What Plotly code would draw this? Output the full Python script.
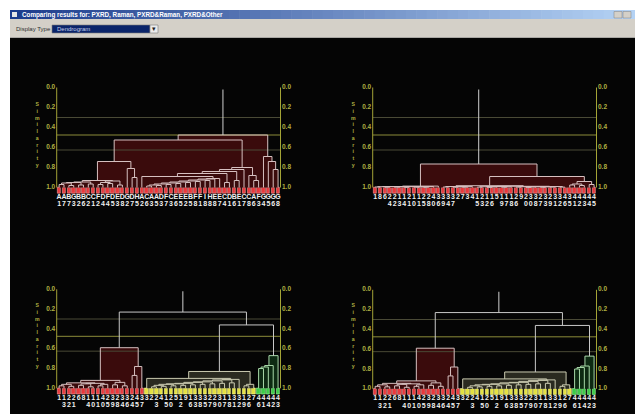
import plotly.graph_objects as go

W, H = 635, 414

# ---------------- data ----------------
TICK_VALUES = [0.0, 0.2, 0.4, 0.6, 0.8, 1.0]
TICK_TEXT = ["0.0", "0.2", "0.4", "0.6", "0.8", "1.0"]
GRID_LEVELS = [0.3, 0.625]
THRESHOLD = 0.475
STEM_TOP = 0.02
AXIS_TITLE = "Similarity"

TL_LABELS = ("A1 A7 B7 G3 B2 B6 C2 C1 F2 D4 F4 D5 E3 D8 G2 D7 H5 A2 C6 A3 A5 D3 F7 "
             "C3 E6 E5 E2 B5 F8 F1 I8 H8 E8 E7 C4 D1 B6 E1 C7 C8 A6 F3 G4 G5 G6 G8").split()
TL_GROUPS = ["red"] * 46
TL_GAPS = [0.97, 0.955, 0.98, 0.95, 0.975, 0.945, 0.965, 0.93, 0.97, 0.95, 0.96, 0.935, 0.975,
           0.74,
           0.81, 0.90,
           0.525,
           0.89,
           0.985, 0.975, 0.98, 0.965, 0.97, 0.955, 0.96, 0.945, 0.95, 0.935, 0.94, 0.925, 0.93, 0.915, 0.91,
           0.86, 0.95, 0.84, 0.93, 0.82, 0.80, 0.88, 0.93,
           0.475,
           0.69, 0.74, 0.82]

TR_LABELS = ["1", "8", "6", "24", "22", "13", "14", "21", "10", "11", "25", "28", "40", "36", "39",
             "34", "37", "2", "7", "3", "4", "15", "23", "12", "16", "5", "19", "17", "18", "26",
             "9", "20", "30", "38", "27", "33", "29", "31", "32", "46", "35", "41", "42", "43",
             "44", "45"]
TR_GROUPS = ["red"] * 46
TR_GAPS = [0.995, 0.992, 0.997, 0.990, 0.996, 0.993, 0.998, 0.991, 0.996, 0.994, 0.997, 0.990, 0.986,
           0.765,
           0.995, 0.990, 0.997, 0.993, 0.996, 0.991,
           0.982,
           0.996, 0.992, 0.998, 0.994, 0.990, 0.997, 0.993, 0.988, 0.996, 0.992, 0.998, 0.994, 0.991,
           0.997, 0.993, 0.995, 0.990, 0.996,
           0.89,
           0.975, 0.965, 0.98,
           0.94,
           0.97]

BOT_LABELS = ["1", "13", "22", "21", "6", "8", "14", "10", "11", "40", "25", "39", "28", "34", "36",
              "24", "45", "37",
              "3", "2", "23", "4", "15", "20", "5", "12", "9", "16", "33", "38", "35", "27", "29",
              "30", "17", "18", "31", "32", "19", "26", "7",
              "46", "41", "44", "42", "43"]
BOT_GROUPS = ["red"] * 18 + ["yellow"] * 23 + ["green"] * 5
BOT_GAPS = [0.975, 0.96, 0.98, 0.945, 0.97, 0.955, 0.985, 0.95, 0.975, 0.96,
            0.92,
            0.965, 0.94, 0.975,
            0.59,
            0.87, 0.78,
            0.23,
            0.90,
            0.985, 0.97, 0.98, 0.96, 0.975, 0.955, 0.97, 0.95, 0.965, 0.94, 0.96, 0.935, 0.955,
            0.925, 0.95, 0.915, 0.945, 0.91,
            0.83,
            0.975, 0.96,
            0.36,
            0.80, 0.785, 0.77, 0.67]

WINDOW_TITLE = "Comparing results for: PXRD, Raman, PXRD&Raman, PXRD&Other"

# ---------------- styles ----------------
FILL = {"red": "#3a0b0c", "yellow": "#2a2a20", "green": "#0d2a12"}
LINE = {"red": "#d6c0c0", "yellow": "#cacab0", "green": "#a8d8a8", None: "#c8c8c8"}
LEAF = {"red": "#e8383c", "yellow": "#e4e040", "green": "#3ccc48"}
LEAF_EDGE = {"red": "#ffa0a0", "yellow": "#ffffa0", "green": "#a0ffa0"}
AXIS_COL = "#a4a436"
TICK_COL = "#b0b042"
GRID_COL = "#4a4a36"
THR_COL = "#8c8c3a"

# panels: pixel positions of the two axis lines, y pixel of similarity 0, px per unit
PANELS = [
    dict(labels=TL_LABELS, gaps=TL_GAPS, groups=TL_GROUPS, x0=56.7, x1=280.5, y0=87.5, s=100.0),
    dict(labels=TR_LABELS, gaps=TR_GAPS, groups=TR_GROUPS, x0=372.7, x1=596.5, y0=87.5, s=100.0),
    dict(labels=BOT_LABELS, gaps=BOT_GAPS, groups=BOT_GROUPS, x0=56.7, x1=280.5, y0=289.3, s=99.0),
    dict(labels=BOT_LABELS, gaps=BOT_GAPS, groups=BOT_GROUPS, x0=372.7, x1=596.5, y0=289.8, s=99.0),
]
YMIN, YMAX = -0.05, 1.25
PAD_L, PAD_R = 7.0, 4.0   # extra x room (in leaf units) for the side labels


def px(x):
    return x / W


def py(y):
    return 1 - y / H


def build(gaps, groups, a, b, nodes):
    if a == b:
        return float(a), 1.0, groups[a]
    seg = gaps[a:b]
    k = a + seg.index(min(seg))
    xl, hl, gl = build(gaps, groups, a, k, nodes)
    xr, hr, gr = build(gaps, groups, k + 1, b, nodes)
    h = gaps[k]
    grp = gl if gl == gr else None
    nodes.append((xl, hl, xr, hr, h, grp))
    return (xl + xr) / 2, h, grp


fig = go.Figure()
annotations = []
layout_axes = {}

for i, p in enumerate(PANELS):
    n = i + 1
    sfx = "" if n == 1 else str(n)
    xa, ya = "x" + sfx, "y" + sfx
    labels, gaps, groups = p["labels"], p["gaps"], p["groups"]
    nl = len(labels)
    xlo, xhi = -0.5, nl - 0.5
    unit = (p["x1"] - p["x0"]) / nl

    ytop = p["y0"] + YMIN * p["s"]
    ybot = p["y0"] + YMAX * p["s"]
    layout_axes["xaxis" + sfx] = dict(domain=[px(p["x0"] - PAD_L * unit), px(p["x1"] + PAD_R * unit)],
                                      range=[xlo - PAD_L, xhi + PAD_R],
                                      visible=False, anchor=ya, fixedrange=True)
    layout_axes["yaxis" + sfx] = dict(domain=[py(ybot), py(ytop)], range=[YMAX, YMIN],
                                      visible=False, anchor=xa, fixedrange=True)

    nodes = []
    xroot, hroot, _ = build(gaps, groups, 0, nl - 1, nodes)

    # fills under clusters of one colour
    fills = {}
    for xl, hl, xr, hr, h, grp in nodes:
        if grp is None:
            continue
        fx, fy = fills.setdefault(grp, ([], []))
        fx += [xl, xl, xr, xr, xl, None]
        fy += [1.0, h, h, 1.0, 1.0, None]
    for grp, (fx, fy) in fills.items():
        fig.add_trace(go.Scatter(x=fx, y=fy, xaxis=xa, yaxis=ya, mode="lines", fill="toself",
                                 fillcolor=FILL[grp], line=dict(width=0), hoverinfo="skip"))

    # grid lines and threshold
    gx, gy = [], []
    for g in GRID_LEVELS:
        gx += [xlo, xhi, None]
        gy += [g, g, None]
    fig.add_trace(go.Scatter(x=gx, y=gy, xaxis=xa, yaxis=ya, mode="lines",
                             line=dict(color=GRID_COL, width=1), hoverinfo="skip"))
    fig.add_trace(go.Scatter(x=[xlo, xhi], y=[THRESHOLD, THRESHOLD], xaxis=xa, yaxis=ya, mode="lines",
                             line=dict(color=THR_COL, width=1), hoverinfo="skip"))

    # axis lines
    fig.add_trace(go.Scatter(x=[xlo, xlo, None, xhi, xhi],
                             y=[TICK_VALUES[0], TICK_VALUES[-1], None, TICK_VALUES[0], TICK_VALUES[-1]],
                             xaxis=xa, yaxis=ya, mode="lines", line=dict(color=AXIS_COL, width=1),
                             hoverinfo="skip"))

    # dendrogram lines
    lines = {}
    for xl, hl, xr, hr, h, grp in nodes:
        lx, ly = lines.setdefault(grp, ([], []))
        lx += [xl, xl, xr, xr, None]
        ly += [hl, h, h, hr, None]
    for grp, (lx, ly) in lines.items():
        fig.add_trace(go.Scatter(x=lx, y=ly, xaxis=xa, yaxis=ya, mode="lines",
                                 line=dict(color=LINE[grp], width=1), hoverinfo="skip"))
    # stem above root
    fig.add_trace(go.Scatter(x=[xroot, xroot], y=[hroot, STEM_TOP], xaxis=xa, yaxis=ya, mode="lines",
                             line=dict(color="#d0d0d0", width=1), hoverinfo="skip"))

    # leaf markers
    leaf_x = list(range(nl))
    fig.add_trace(go.Bar(x=leaf_x, y=[0.055] * nl, base=[1.004] * nl, width=0.7,
                         xaxis=xa, yaxis=ya,
                         marker=dict(color=[LEAF[g] for g in groups],
                                     line=dict(color=[LEAF_EDGE[g] for g in groups], width=0.6)),
                         hoverinfo="skip"))

    # leaf labels (two rows)
    row1 = [lab[0] for lab in labels]
    row2 = [lab[1:] for lab in labels]
    for yy, row in ((1.098, row1), (1.172, row2)):
        fig.add_trace(go.Scatter(x=leaf_x, y=[yy] * nl, text=row, mode="text", xaxis=xa, yaxis=ya,
                                 textposition="middle center", cliponaxis=False,
                                 textfont=dict(family="Liberation Sans", size=7, color="#f0f0f0",
                                               weight="bold"),
                                 hoverinfo="skip"))

    # tick labels both sides
    fig.add_trace(go.Scatter(x=[xlo - 0.3] * len(TICK_VALUES), y=TICK_VALUES, text=TICK_TEXT,
                             mode="text", textposition="middle left", cliponaxis=False,
                             xaxis=xa, yaxis=ya,
                             textfont=dict(family="Liberation Sans", size=6.5, color=TICK_COL, weight="bold"),
                             hoverinfo="skip"))
    fig.add_trace(go.Scatter(x=[xhi + 0.3] * len(TICK_VALUES), y=TICK_VALUES, text=TICK_TEXT,
                             mode="text", textposition="middle right", cliponaxis=False,
                             xaxis=xa, yaxis=ya,
                             textfont=dict(family="Liberation Sans", size=6.5, color=TICK_COL, weight="bold"),
                             hoverinfo="skip"))

    # vertical "Similarity" title (stacked letters)
    annotations.append(dict(xref=xa, yref=ya, x=xlo - 3.9, y=0.465, showarrow=False,
                            text="<br>".join(list(AXIS_TITLE)),
                            font=dict(family="Liberation Sans", size=5.2, color=TICK_COL, weight="bold"),
                            xanchor="center", yanchor="middle"))

# ---------------- window chrome ----------------
shapes = []
shapes.append(dict(type="rect", xref="paper", yref="paper", x0=px(10), x1=px(635), y0=py(414), y1=py(37.5),
                   fillcolor="#050505", line=dict(width=0), layer="below"))
shapes.append(dict(type="rect", xref="paper", yref="paper", x0=px(10), x1=px(635), y0=py(37.5), y1=py(19),
                   fillcolor="#d4d0c8", line=dict(width=0), layer="below"))
c0 = (0x1c, 0x3c, 0x8c)
c1 = (0xb4, 0xd2, 0xf4)
NSTEP = 60
for k in range(NSTEP):
    t = k / (NSTEP - 1)
    col = "rgb(%d,%d,%d)" % tuple(round(a + (b - a) * t) for a, b in zip(c0, c1))
    xa0 = 10 + (635 - 10) * k / NSTEP
    xa1 = 10 + (635 - 10) * (k + 1) / NSTEP + 0.6
    shapes.append(dict(type="rect", xref="paper", yref="paper", x0=px(xa0), x1=px(xa1), y0=py(19), y1=py(10),
                       fillcolor=col, line=dict(width=0), layer="below"))
shapes.append(dict(type="rect", xref="paper", yref="paper", x0=px(12), x1=px(17), y0=py(17), y1=py(12),
                   fillcolor="#e6e6e6", line=dict(width=0), layer="below"))
for bx in (614, 623):
    shapes.append(dict(type="rect", xref="paper", yref="paper", x0=px(bx), x1=px(bx + 8), y0=py(18), y1=py(11.5),
                       fillcolor="#d4d0c8", line=dict(color="#808080", width=0.5), layer="below"))
shapes.append(dict(type="rect", xref="paper", yref="paper", x0=px(52), x1=px(150), y0=py(33), y1=py(25),
                   fillcolor="#0a246a", line=dict(color="#7a7a7a", width=0.6), layer="below"))
shapes.append(dict(type="rect", xref="paper", yref="paper", x0=px(150), x1=px(158), y0=py(33), y1=py(25),
                   fillcolor="#ececec", line=dict(color="#7a7a7a", width=0.6), layer="below"))

annotations += [
    dict(xref="paper", yref="paper", x=px(20), y=py(14.6), xanchor="left", yanchor="middle", showarrow=False,
         text="<b>" + WINDOW_TITLE + "</b>", font=dict(family="Liberation Sans", size=6.3, color="white")),
    dict(xref="paper", yref="paper", x=px(14), y=py(29), xanchor="left", yanchor="middle", showarrow=False,
         text="Display Type", font=dict(family="Liberation Sans", size=6, color="#303030")),
    dict(xref="paper", yref="paper", x=px(55), y=py(29), xanchor="left", yanchor="middle", showarrow=False,
         text="Dendrogram", font=dict(family="Liberation Sans", size=6, color="#c8d0e8")),
    dict(xref="paper", yref="paper", x=px(154), y=py(29), xanchor="center", yanchor="middle", showarrow=False,
         text="▾", font=dict(family="DejaVu Sans", size=7, color="#202020")),
]

fig.update_layout(width=W, height=H, margin=dict(l=0, r=0, t=0, b=0, pad=0), paper_bgcolor="white",
                  plot_bgcolor="rgba(0,0,0,0)", showlegend=False, shapes=shapes, annotations=annotations,
                  bargap=0, **layout_axes)

fig.write_html("out.html")
